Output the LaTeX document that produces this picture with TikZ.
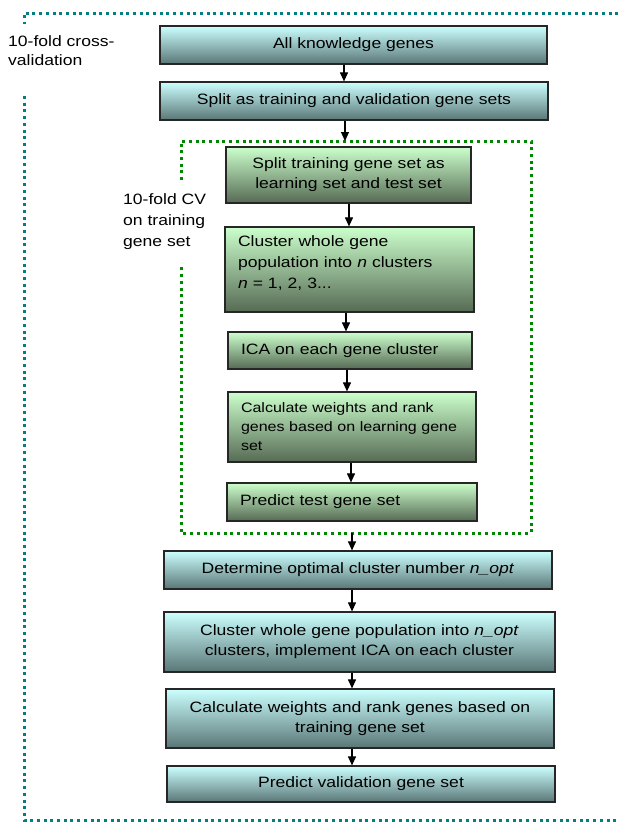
\documentclass[tikz,border=0pt]{standalone}
\usepackage{fontspec}
\setmainfont{Liberation Sans}[FakeStretch=1.17]
\usetikzlibrary{arrows.meta,shadings,calc}
\definecolor{cyantop}{RGB}{204,255,255}
\definecolor{cyanbot}{RGB}{90,118,118}
\definecolor{greentop}{RGB}{204,255,204}
\definecolor{greenbot}{RGB}{86,106,84}
\definecolor{outerdot}{RGB}{0,128,128}
\definecolor{innerdot}{RGB}{0,135,0}
\tikzset{
  base/.style={draw=black!85, line width=1.2pt, inner ysep=0pt, font=\fontsize{15}{20}\selectfont, shading angle=0},
  cbox/.style={base, top color=cyantop, bottom color=cyanbot, align=center, inner xsep=4pt},
  gboxc/.style={base, top color=greentop, bottom color=greenbot, align=center, inner xsep=4pt},
  gboxl/.style={base, top color=greentop, bottom color=greenbot, align=left, inner xsep=13pt},
  flow/.style={line width=1.1pt, -{Triangle[length=9pt,width=8pt]}},
  dotline/.style={line width=3pt, dash pattern=on 3pt off 3.7pt},
  lbl/.style={font=\fontsize{15}{19}\selectfont, align=left, inner sep=0pt, anchor=west}
}
\begin{document}
\begin{tikzpicture}[x=1pt,y=-1pt]
\useasboundingbox (0,0) rectangle (619,823);
% outer cross-validation frame
\draw[dotline, outerdot] (625,13) -- (24,13) -- (24,24);
\draw[dotline, outerdot] (24,96) -- (24,820) -- (625,820);
\node[lbl] (outerlbl) at (8,51) {10-fold cross-\\validation};
% inner CV frame
\draw[dotline, innerdot] (181,180) -- (181,141) -- (531,141) -- (531,533) -- (181,533) -- (181,267);
\coordinate (cvtop) at (345,141);
\coordinate (cvbot) at (352,533);
\node[lbl, font=\fontsize{15}{21}\selectfont] (innerlbl) at (123,222) {10-fold CV\\on training\\gene set};
% boxes
\node[cbox, minimum width=387pt, minimum height=38pt] (b1) at (353.5,45) {All knowledge genes};
\node[cbox, minimum width=388pt, minimum height=38pt] (b2) at (354,101) {Split as training and validation gene sets};
\node[gboxc, minimum width=245pt, minimum height=56pt] (b3) at (348.5,175) {Split training gene set as\\learning set and test set};
\node[gboxl, minimum width=249pt, minimum height=85pt, text width=223pt, font=\fontsize{15}{21}\selectfont] (b4) at (349.5,269.5) {Cluster whole gene\\population into \textit{n} clusters\\\textit{n} = 1, 2, 3...\\[-12pt]\strut};
\node[gboxl, minimum width=244pt, minimum height=37pt, text width=218pt] (b5) at (350,350.5) {ICA on each gene cluster};
\node[gboxl, minimum width=248pt, minimum height=70pt, text width=222pt, font=\fontsize{13.7}{19}\selectfont] (b6) at (352,427) {Calculate weights and rank\\genes based on learning gene\\set};
\node[gboxl, minimum width=250pt, minimum height=38pt, text width=224pt] (b7) at (352,502) {Predict test gene set};
\node[cbox, minimum width=388pt, minimum height=38pt] (b8) at (358,570) {Determine optimal cluster number \textit{n\_opt}};
\node[cbox, minimum width=391pt, minimum height=60pt] (b9) at (359.5,642) {Cluster whole gene population into \textit{n\_opt}\\clusters, implement ICA on each cluster};
\node[cbox, minimum width=388pt, minimum height=59pt] (b10) at (360,718.5) {Calculate weights and rank genes based on\\training gene set};
\node[cbox, minimum width=388pt, minimum height=36pt] (b11) at (361,784) {Predict validation gene set};
% connectors
\draw[flow] (b1.south -| 344,0) -- (b2.north -| 344,0);
\draw[flow] (b2.south -| cvtop) -- (cvtop);
\draw[flow] (b3.south -| 349,0) -- (b4.north -| 349,0);
\draw[flow] (b4.south -| 346,0) -- (b5.north -| 346,0);
\draw[flow] (b5.south -| 347,0) -- (b6.north -| 347,0);
\draw[flow] (b6.south -| 351,0) -- (b7.north -| 351,0);
\draw[flow] (cvbot) -- (b8.north -| cvbot);
\draw[flow] (b8.south -| 352,0) -- (b9.north -| 352,0);
\draw[flow] (b9.south -| 352,0) -- (b10.north -| 352,0);
\draw[flow] (b10.south -| 352,0) -- (b11.north -| 352,0);
\end{tikzpicture}
\end{document}
